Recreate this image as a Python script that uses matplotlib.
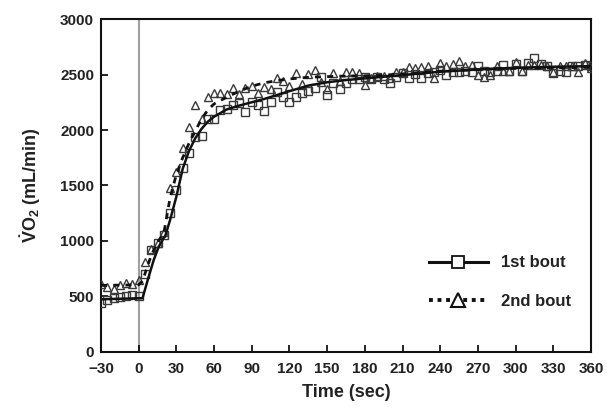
import matplotlib
matplotlib.use("Agg")
import matplotlib.pyplot as plt
import numpy as np
from matplotlib.lines import Line2D

plt.rcParams['font.family'] = ['Liberation Sans', 'DejaVu Sans']
plt.rcParams['mathtext.fontset'] = 'custom'
plt.rcParams['mathtext.rm'] = 'Liberation Sans'
plt.rcParams['mathtext.bf'] = 'Liberation Sans:bold'

# time axis for measured points (sec)
time_pts = list(range(-30, 361, 5))

bout1 = [444, 470, 487, 494, 500, 515, 506, 702, 920, 982,
         1057, 1250, 1455, 1660, 1790, 1940, 1945, 2102, 2102, 2177,
         2190, 2228, 2240, 2165, 2255, 2222, 2168, 2253, 2345, 2295,
         2255, 2295, 2331, 2351, 2381, 2480, 2311, 2426, 2369, 2426,
         2457, 2457, 2475, 2457, 2475, 2457, 2426, 2477, 2514, 2473,
         2508, 2473, 2515, 2525, 2541, 2495, 2525, 2525, 2534, 2525,
         2577, 2533, 2525, 2530, 2582, 2533, 2594, 2533, 2601, 2646,
         2598, 2577, 2516, 2530, 2525, 2577, 2574, 2582, 2578]

bout2 = [610, 581, 571, 605, 626, 614, 649, 810, 925, 985,
         1084, 1478, 1624, 1840, 2030, 2225, 2096, 2295, 2331, 2331,
         2328, 2376, 2328, 2376, 2400, 2336, 2390, 2369, 2466, 2438,
         2396, 2516, 2411, 2505, 2541, 2435, 2366, 2511, 2441, 2525,
         2525, 2511, 2408, 2466, 2487, 2487, 2466, 2525, 2525, 2570,
         2556, 2570, 2573, 2466, 2601, 2575, 2592, 2618, 2577, 2586,
         2500, 2480, 2492, 2577, 2530, 2534, 2610, 2530, 2586, 2586,
         2586, 2577, 2525, 2577, 2577, 2577, 2525, 2603, 2560]

# model fit curves
fit1_t = [-30, 0, 3, 8, 12, 16, 20, 21, 25, 30, 35, 40, 45, 50, 55, 60, 70, 80,
          90, 100, 110, 120, 135, 150, 165, 180, 200, 220, 240, 270, 300, 330, 360]
fit1 = [475, 484, 484, 680, 830, 950, 1030, 1040, 1190, 1400, 1650, 1810, 1925,
        2010, 2075, 2120, 2185, 2220, 2250, 2280, 2315, 2350, 2400, 2430, 2450,
        2465, 2485, 2505, 2525, 2545, 2560, 2570, 2575]

fit2_t = [-30, 0, 3, 10, 15, 20, 25, 30, 35, 40, 45, 50, 55, 60, 70, 80, 90, 100,
          110, 120, 135, 160, 190, 215, 240, 270, 300, 330, 360]
fit2 = [600, 605, 640, 870, 990, 1070, 1390, 1600, 1750, 1880, 1990, 2100, 2180,
        2235, 2295, 2350, 2395, 2425, 2445, 2460, 2475, 2485, 2490, 2510, 2530,
        2545, 2555, 2560, 2565]

x_ticks = list(range(-30, 361, 30))
y_ticks = list(range(0, 3001, 500))

fig = plt.figure(figsize=(6.07, 4.08), dpi=100)
ax = fig.add_axes([0.1664, 0.1373, 0.8072, 0.8161])

ax.axvline(0, color='#a0a0a0', lw=1.5, zorder=1)

mcol = '#3a3a3a'
ax.plot(time_pts, bout1, linestyle='none', marker='s', ms=6, mfc='none',
        mec=mcol, mew=1.0, zorder=3)
ax.plot(time_pts, bout2, linestyle='none', marker='^', ms=6, mfc='none',
        mec=mcol, mew=1.0, zorder=3)
ax.plot(fit1_t, fit1, color='#111111', lw=1.8, zorder=4)
ax.plot(fit2_t, fit2, color='#111111', lw=2.0, linestyle=(0, (2.2, 2.2)), zorder=4)

ax.set_xlim(-30, 360)
ax.set_ylim(0, 3000)
ax.set_xticks(x_ticks)
ax.set_yticks(y_ticks)
ax.set_xticklabels([str(v).replace('-', '\u2212') for v in x_ticks])
ax.tick_params(direction='in', length=5, width=1.2, labelsize=11)
ax.tick_params(axis='x', pad=7)
ax.tick_params(axis='y', pad=5)
for lab in ax.get_xticklabels() + ax.get_yticklabels():
    lab.set_fontweight('bold')
    lab.set_color('#222222')
for sp in ax.spines.values():
    sp.set_linewidth(1.5)
    sp.set_color('#111111')

ax.set_xlabel('Time (sec)', fontsize=13, fontweight='bold', color='#222222', labelpad=6)
ax.set_ylabel(r'$\mathbf{\dot{V}O_2}$ (mL/min)', fontsize=13, fontweight='bold',
              color='#222222', labelpad=12)

h1 = Line2D([], [], color='#111111', lw=2.2, marker='s', ms=9, mfc='white', mec='#111111', mew=1.3)
h2 = Line2D([], [], color='#111111', lw=2.8, linestyle=(0, (1, 1.2)), marker='^', ms=10,
            mfc='white', mec='#111111', mew=1.5)
leg = ax.legend([h1, h2], ['1st bout', '2nd bout'], loc='lower right',
                bbox_to_anchor=(0.99, 0.085), frameon=False, handlelength=3.5,
                handletextpad=0.8, labelspacing=1.4,
                prop={'weight': 'bold', 'size': 12})
for t in leg.get_texts():
    t.set_color('#222222')

fig.savefig('out.png', dpi=100)
